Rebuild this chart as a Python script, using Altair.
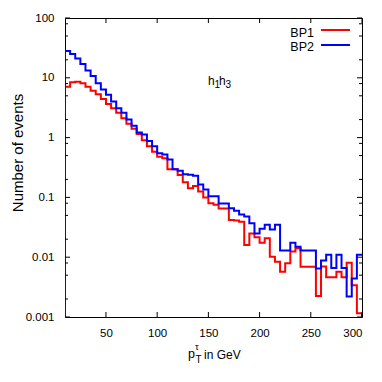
import altair as alt
import pandas as pd

# ---- data (5 GeV bins from 10 to 300 GeV) ----
bin_lo = list(range(10, 300, 5))
x_end = 300
y_min = 0.001

bp1 = [7.1, 8.4, 8.6, 8.1, 7.1, 6.1, 5.3, 4.4, 3.65, 3.1,
       2.6, 2.1, 1.7, 1.4, 1.15, 0.9, 0.72, 0.58, 0.48, 0.45,
       0.295, 0.295, 0.237, 0.18, 0.142, 0.155, 0.125, 0.1, 0.08, 0.075,
       0.065, 0.065, 0.042, 0.041, 0.039, 0.016, 0.025, 0.0215, 0.0175, 0.0207,
       0.0102, 0.0084, 0.0057, 0.0079, 0.0124, 0.0141, 0.0069, 0.0069, 0.0069, 0.00225,
       0.007, 0.0046, 0.0046, 0.0057, 0.0046, 0.0081, 0.0034, 0.00115]

bp2 = [28, 25, 21, 17, 13.2, 10.7, 8.1, 6.4, 5.2, 4.0,
       3.1, 2.6, 2.0, 1.58, 1.22, 1.13, 0.88, 0.72, 0.55, 0.52,
       0.43, 0.295, 0.28, 0.245, 0.24, 0.23, 0.165, 0.136, 0.105, 0.105,
       0.079, 0.079, 0.066, 0.06, 0.052, 0.048, 0.037, 0.025, 0.030, 0.035,
       0.029, 0.035, 0.013, 0.013, 0.0175, 0.015, 0.013, 0.013, 0.013, 0.0065,
       0.0088, 0.011, 0.0066, 0.011, 0.0066, 0.0022, 0.0044, 0.011]

series = ["BP1", "BP2"]
colors = ["#ff0000", "#0000ff"]
x_major = [50, 100, 150, 200, 250, 300]
y_major = [0.001, 0.01, 0.1, 1, 10, 100]
y_minor_mult = [2, 5, 8]

FN = "Liberation Sans, Arial, sans-serif"
FR = "Liberation Sans, Arial, sans-serif"

# ---- build step-histogram point lists ----
rows = []
for name, vals in (("BP1", bp1), ("BP2", bp2)):
    pts = [(bin_lo[0], y_min)] + list(zip(bin_lo, vals)) + [(x_end, vals[-1])]
    if name == "BP1":
        pts.append((x_end, y_min))
    for i, (x, y) in enumerate(pts):
        rows.append({"series": name, "x": x, "y": y, "order": i})
df = pd.DataFrame(rows)

ytick_rows = []
for v in y_major:
    ytick_rows.append({"v": v, "major": True})
for v in y_major[:-1]:
    for m in y_minor_mult:
        ytick_rows.append({"v": v * m, "major": False})
ytick_df = pd.DataFrame(ytick_rows)
xtick_df = pd.DataFrame({"v": x_major})

W, H = 297, 299
xs = alt.Scale(domain=[10, 300], nice=False, zero=False)
ys = alt.Scale(type="log", domain=[0.001, 100], nice=False)
cs = alt.Scale(domain=series, range=colors)

x_axis = alt.Axis(values=x_major, ticks=False, domain=False, grid=False,
                  labelFont=FN, labelFontSize=11.5, labelColor="black",
                  labelPadding=10, title=None)
y_axis = alt.Axis(values=y_major, format="~g", ticks=False, domain=False, grid=False,
                  labelFont=FN, labelFontSize=11.5, labelColor="black",
                  labelPadding=11, title=None)


def hist_layer(name):
    return alt.Chart(df).transform_filter(alt.datum.series == name).mark_line(
        interpolate="step-after", strokeWidth=2, clip=True
    ).encode(
        x=alt.X("x:Q", scale=xs, axis=x_axis),
        y=alt.Y("y:Q", scale=ys, axis=y_axis),
        color=alt.Color("series:N", scale=cs, legend=None),
        order="order:Q",
    )


def ytick(major, left):
    ln = 5 if major else 3
    xa, xb = (0, ln) if left else (W, W - ln)
    return alt.Chart(ytick_df).transform_filter(
        alt.datum.major if major else ~alt.datum.major
    ).mark_rule(color="black", strokeWidth=1).encode(
        y=alt.Y("v:Q", scale=ys, axis=y_axis), x=alt.value(xa), x2=alt.value(xb)
    )


def xtick(bottom):
    ya, yb = (H, H - 5) if bottom else (0, 5)
    return alt.Chart(xtick_df).mark_rule(color="black", strokeWidth=1).encode(
        x=alt.X("v:Q", scale=xs, axis=x_axis), y=alt.value(ya), y2=alt.value(yb)
    )


def txt(t, x, y, size=12, font=FN, align="left", baseline="alphabetic", angle=0):
    kw = dict(font=font, fontSize=size, align=align, baseline=baseline, color="black")
    if angle:
        kw["angle"] = angle
    return alt.Chart(pd.DataFrame({"t": [t]})).mark_text(**kw).encode(
        text="t:N", x=alt.value(x), y=alt.value(y)
    )


def legend_line(name, y):
    return alt.Chart(pd.DataFrame({"series": [name]})).mark_rule(strokeWidth=2).encode(
        x=alt.value(256), x2=alt.value(285), y=alt.value(y),
        color=alt.Color("series:N", scale=cs, legend=None),
    )


layers = [
    hist_layer("BP1"),
    hist_layer("BP2"),
    ytick(True, True), ytick(False, True), ytick(True, False), ytick(False, False),
    xtick(True), xtick(False),
    # legend
    txt("BP1", 249, 15, size=12.5, align="right", baseline="middle"),
    txt("BP2", 249, 29, size=12.5, align="right", baseline="middle"),
    legend_line("BP1", 12),
    legend_line("BP2", 27),
    # h1h3 annotation
    txt("h", 143, 67, size=12),
    txt("1", 149.5, 70, size=10),
    txt("h", 154, 67, size=12),
    txt("3", 160.5, 70, size=10),
    # x-axis title  p^tau_T in GeV
    txt("p", 123, 340, size=12.5),
    txt("\u03c4", 130, 332, size=9.5),
    txt("T", 130.5, 345, size=10),
    txt("in GeV", 139, 341, size=12),
    # y-axis title
    txt("Number of events", -47, 135, size=15, font=FR, align="center",
        baseline="middle", angle=270),
]

chart = alt.layer(*layers).properties(
    width=W, height=H,
    autosize=alt.AutoSizeParams(type="none"),
    padding={"left": 57, "top": 10, "right": 12, "bottom": 55},
).configure_view(stroke="black", strokeWidth=1)

chart.save("out.html", embed_options={"renderer": "svg", "actions": False})
